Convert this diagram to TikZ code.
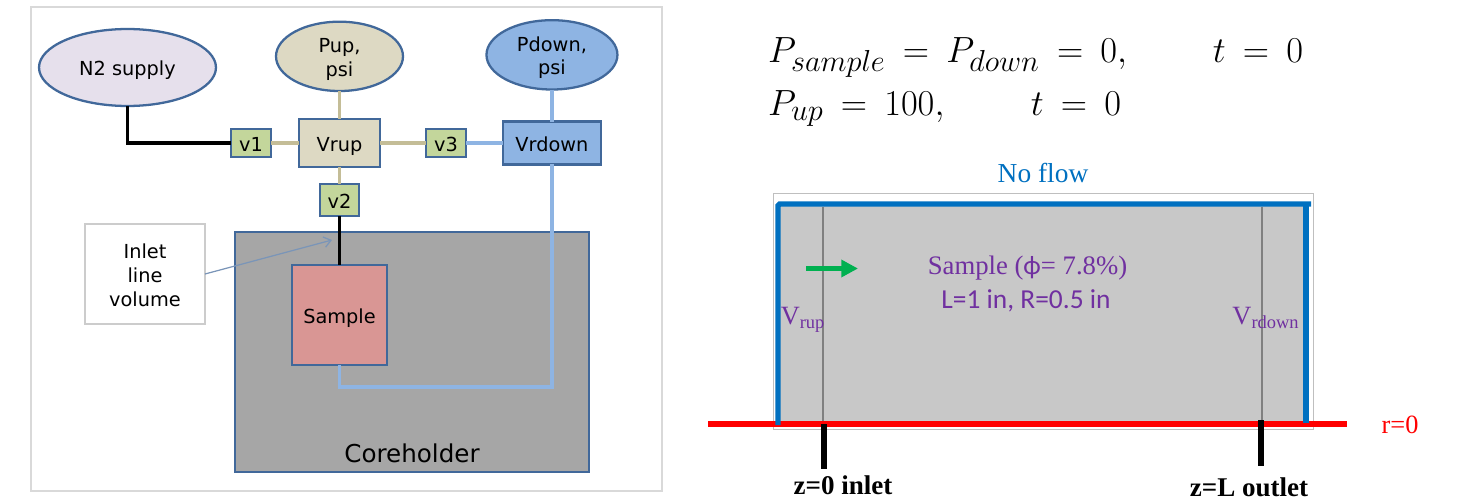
\documentclass[tikz,border=0pt]{standalone}
\usepackage{amsmath}
\usepackage{fontspec}
\usepackage{xcolor}
\setmainfont{Liberation Serif}
\setsansfont{DejaVu Sans}
\newfontfamily\carlito{Carlito}
\usetikzlibrary{shapes.geometric, arrows.meta, positioning}
\DeclareMathSizes{22.5}{22.5}{19}{14}
\newcommand{\toppad}{\rule{0pt}{11.8pt}}

\definecolor{edgeblue}{HTML}{41689A}
\definecolor{tanfill}{HTML}{DDD9C3}
\definecolor{tanpipe}{HTML}{C4BD97}
\definecolor{downblue}{HTML}{8EB4E3}
\definecolor{valvegreen}{HTML}{C3D69B}
\definecolor{lilac}{HTML}{E6E0EC}
\definecolor{samplered}{HTML}{D99694}
\definecolor{holdergrey}{HTML}{A6A6A6}
\definecolor{wallblue}{HTML}{0070C0}
\definecolor{flowgreen}{HTML}{00B050}
\definecolor{labelpurple}{HTML}{7030A0}

\begin{document}
\begin{tikzpicture}[
    x=0.02cm, y=-0.02cm,
    outer sep=0pt,
    label/.style={font=\sffamily\fontsize{11}{13.6}\selectfont, text=black, align=center,
        execute at begin node={\rule[-2.5pt]{0pt}{14.2pt}},
        execute at end node={\rule[-2.5pt]{0pt}{0pt}}},
    tank/.style={ellipse, draw=edgeblue, line width=1.3pt, label, inner sep=0pt},
    box/.style={rectangle, draw=edgeblue, line width=1.3pt, label, inner sep=0pt},
    valve/.style={box, fill=valvegreen, minimum width=0.8cm, minimum height=0.56cm},
    pipeup/.style={draw=tanpipe, line width=2pt},
    pipedown/.style={draw=downblue, line width=2pt},
    pipegas/.style={draw=black, line width=2pt},
    serif/.style={font=\rmfamily\fontsize{15}{18}\selectfont, inner sep=0pt},
    equation/.style={inner sep=0pt, font=\fontsize{22.5}{27}\selectfont, execute at begin node={\thickmuskip=8.5mu}},
    volume/.style={draw=black!50, line width=0.8pt},
    tick/.style={draw=black, line width=3pt},
    wall/.style={draw=wallblue, line width=3.1pt}
]
\useasboundingbox (0,0) rectangle (1459,500);

% rig
\node[rectangle, draw=black!15, line width=1.4pt, minimum width=12.62cm, minimum height=9.68cm] (panel) at (346.5,249) {};
\node[rectangle, draw=edgeblue, line width=1.3pt, fill=holdergrey, minimum width=7.08cm, minimum height=4.8cm] (holder) at (412,352) {};
\node[font=\sffamily\fontsize{14}{17}\selectfont, inner sep=0pt] (holdername) at (412,453) {Coreholder};

\node[box, fill=tanfill, minimum width=1.62cm, minimum height=0.96cm] (vrup) at (339.5,143) {Vrup};
\node[valve, left=0.56cm of vrup] (v1) {v1};
\node[valve, right=0.92cm of vrup] (v3) {v3};
\node[valve, below=0.34cm of vrup, minimum width=0.78cm, minimum height=0.64cm] (v2) {v2};
\node[box, fill=downblue, right=0.74cm of v3, minimum width=1.96cm, minimum height=0.86cm] (vrdown) {Vrdown};
\node[tank, fill=tanfill, above=0.56cm of vrup, minimum width=2.54cm, minimum height=1.28cm] (pup) {\toppad Pup,\\psi};
\node[tank, fill=downblue, above=0.64cm of vrdown, minimum width=2.62cm, minimum height=1.28cm] (pdown) {\toppad Pdown,\\psi};
\node[tank, fill=lilac, minimum width=3.54cm, minimum height=1.54cm] (n2) at (127.5,67.5) {N2 supply};
\node[box, fill=samplered, below=0.98cm of v2, minimum width=1.9cm, minimum height=2cm] (sample) {Sample};
\node[box, draw=black!20, line width=0.8pt, fill=white, minimum width=2.4cm, minimum height=2cm] (inlet) at (145,274) {\toppad Inlet\\line\\volume};

\draw[pipegas] (n2.south) |- (v1.west);
\draw[pipeup] (v1) -- (vrup);
\draw[pipeup] (pup) -- (vrup);
\draw[pipeup] (vrup) -- (v2);
\draw[pipeup] (vrup) -- (v3);
\draw[pipedown] (v3) -- (vrdown);
\draw[pipedown] (pdown) -- (vrdown);
\draw[pipegas] (v2) -- (sample);
\draw[pipedown] (sample.south) -- ++(0,22) -| (vrdown.south);
\coordinate (inletend) at (332,240);
\draw[-{Straight Barb[length=4pt,width=6pt]}, draw=edgeblue!70, line width=0.7pt] (inlet.east) -- (inletend);

% equations
\node[equation, anchor=base west] (eqsample) at (768,63) {$P_{sample}=P_{down}=0,$};
\node[equation, anchor=base east] (eqsampletime) at (1303,63) {$t=0$};
\node[equation, anchor=base west] (equp) at (768,115) {$P_{up}=100,$};
\node[equation, anchor=base east] (equptime) at (1121,115) {$t=0$};

% model
\node[rectangle, draw=black!25, line width=0.5pt, minimum width=10.8cm, minimum height=4.72cm] (frame) at (1043,311) {};
\node[rectangle, fill=black!21.5, minimum width=10.5cm, minimum height=4.34cm] (core) at (1042,313) {};
\coordinate (lefttop) at (823,207);
\coordinate (leftfoot) at (823,421);
\coordinate (righttop) at (1262,207);
\coordinate (rightfoot) at (1262,421);
\draw[volume] (lefttop) -- (leftfoot);
\draw[volume] (righttop) -- (rightfoot);

\coordinate (axisstart) at (708,424);
\coordinate (axisend) at (1347,424);
\draw[draw=red, line width=3.1pt] (axisstart) -- (axisend);
\coordinate (wallleft) at (778,425);
\coordinate (wallcorner) at (778,204);
\coordinate (wallend) at (1311,204);
\draw[wall, rounded corners=1pt] (wallleft) -- (wallcorner) -- (wallend);
\coordinate (wallright) at (1306,204);
\coordinate (wallfoot) at (1306,423);
\draw[wall] (wallright) -- (wallfoot);

\coordinate (tickleft) at (824,424);
\coordinate (tickleftend) at (824,469);
\coordinate (tickright) at (1261,420);
\coordinate (tickrightend) at (1261,466);
\draw[tick] (tickleft) -- (tickleftend);
\draw[tick] (tickright) -- (tickrightend);

\coordinate (flowstart) at (806,268.5);
\coordinate (flowend) at (858,268.5);
\draw[-{Triangle[length=9.5pt,width=9.5pt]}, draw=flowgreen, fill=flowgreen, line width=2.8pt] (flowstart) -- (flowend);

\node[serif, text=wallblue, font=\rmfamily\fontsize{15.6}{18}\selectfont] (noflow) at (1043,173) {No flow};
\node[serif, text=labelpurple, font=\rmfamily\fontsize{15.2}{18}\selectfont] (samplename) at (1027.5,268) {Sample ({\carlito ϕ}= 7.8\%)};
\node[text=labelpurple, inner sep=0pt, font=\carlito\fontsize{15.6}{18}\selectfont] (samplesize) at (1026,301) {L=1 in, R=0.5 in};
\node[serif, text=labelpurple] (vrupname) at (803,320) {V\textsubscript{rup}};
\node[serif, text=labelpurple] (vrdownname) at (1266,318) {V\textsubscript{rdown}};
\node[serif, text=red] (rzero) at (1400,425) {r=0};
\node[serif, font=\rmfamily\bfseries\fontsize{15.4}{18}\selectfont] (zinlet) at (843,485) {z=0 inlet};
\node[serif, font=\rmfamily\bfseries\fontsize{15.4}{18}\selectfont] (zoutlet) at (1249,487) {z=L outlet};
\end{tikzpicture}
\end{document}
